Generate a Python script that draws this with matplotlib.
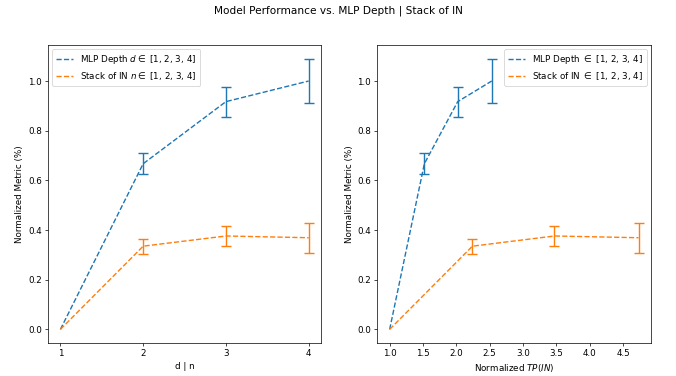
import matplotlib
matplotlib.use('Agg')
import matplotlib.pyplot as plt
import numpy as np

# Data
depth = [1, 2, 3, 4]
mlp_metric = [0.0, 0.667, 0.917, 1.0]
mlp_err = [0.0, 0.042, 0.06, 0.09]
stack_metric = [0.0, 0.335, 0.376, 0.369]
stack_err = [0.0, 0.03, 0.04, 0.06]

# normalized throughput TP(IN) for each setting
mlp_tp = [1.0, 1.52, 2.02, 2.53]
stack_tp = [1.0, 2.24, 3.47, 4.73]

DPI = 63
fig = plt.figure(figsize=(676/DPI, 376/DPI), dpi=DPI)
ax0 = fig.add_axes([0.071, 0.088, 0.404, 0.792])
ax1 = fig.add_axes([0.558, 0.088, 0.405, 0.792])

err_kw = dict(fmt='none', capsize=5.5, elinewidth=1.6, capthick=1.6)

# left: metric vs depth / stack count
ax0.plot(depth, mlp_metric, '--', color='C0', lw=1.6, label=r'MLP Depth $d \in$ [1, 2, 3, 4]')
ax0.plot(depth, stack_metric, '--', color='C1', lw=1.6, label=r'Stack of IN $n \in$ [1, 2, 3, 4]')
ax0.errorbar(depth[1:], mlp_metric[1:], yerr=mlp_err[1:], ecolor='C0', **err_kw)
ax0.errorbar(depth[1:], stack_metric[1:], yerr=stack_err[1:], ecolor='C1', **err_kw)
ax0.set_xticks(depth)
ax0.set_xlabel('d | n')
ax0.set_ylabel('Normalized Metric (%)')
ax0.legend(loc='upper left')

# right: metric vs normalized throughput
ax1.plot(mlp_tp, mlp_metric, '--', color='C0', lw=1.6, label=r'MLP Depth $\in$ [1, 2, 3, 4]')
ax1.plot(stack_tp, stack_metric, '--', color='C1', lw=1.6, label=r'Stack of IN $\in$ [1, 2, 3, 4]')
ax1.errorbar(mlp_tp[1:], mlp_metric[1:], yerr=mlp_err[1:], ecolor='C0', **err_kw)
ax1.errorbar(stack_tp[1:], stack_metric[1:], yerr=stack_err[1:], ecolor='C1', **err_kw)
ax1.set_xticks(np.arange(1.0, 4.51, 0.5))
ax1.set_xlabel(r'Normalized $TP(IN)$')
ax1.set_ylabel('Normalized Metric (%)')
ax1.legend(loc='upper right')

fig.suptitle('Model Performance vs. MLP Depth | Stack of IN', y=0.985)

fig.savefig('out.png', dpi=DPI)
